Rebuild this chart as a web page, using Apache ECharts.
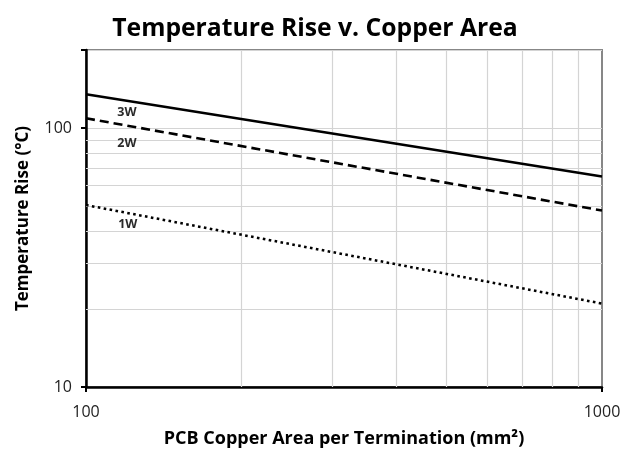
<!DOCTYPE html>
<html>
<head>
<meta charset="utf-8">
<script src="https://cdn.jsdelivr.net/npm/echarts@6/dist/echarts.min.js"></script>
<style>html,body{margin:0;padding:0;background:#fff}#c{width:630px;height:453px}</style>
</head>
<body>
<div id="c"></div>
<script>
// Data (log-log straight lines)
const xValues = [100, 1000];
const series3W = [135, 65];
const series2W = [109, 48];
const series1W = [50.4, 21];
const seriesNames = ['3W', '2W', '1W'];
const xMinorGrid = [200, 300, 400, 500, 600, 700, 800, 900];
const yMinorGrid = [20, 30, 40, 50, 60, 70, 80, 90];
const yTickLabels = [10, 100];
const xTickLabels = [100, 1000];

const FONT = '"Open Sans", sans-serif';
const chart = echarts.init(document.getElementById('c'));

function pts(vals){ return xValues.map((x,i)=>[x, vals[i]]); }

const gridLines = [];
xMinorGrid.forEach(v => gridLines.push({xAxis: v}));
yMinorGrid.forEach(v => gridLines.push({yAxis: v}));

const lblStyle = {show: true, fontFamily: FONT, fontWeight: 'bold', fontSize: 12.5, color: '#2a2a2a'};

chart.setOption({
  animation: false,
  title: {
    text: 'Temperature Rise v. Copper Area',
    left: 'center', top: 11,
    textStyle: {fontFamily: FONT, fontWeight: 'bold', fontSize: 24.7, color: '#000'}
  },
  grid: {left: 86, right: 28, top: 50, bottom: 66, show: true, borderColor: '#878787', borderWidth: 2, backgroundColor: 'transparent'},
  xAxis: {
    type: 'log', logBase: 10, min: 100, max: 1000,
    name: 'PCB Copper Area per Termination (mm²)',
    nameLocation: 'middle', nameGap: 43,
    nameTextStyle: {fontFamily: FONT, fontWeight: 'bold', fontSize: 18, color: '#000'},
    axisLine: {show: true, lineStyle: {color: '#000', width: 2.5}},
    axisTick: {show: true, length: 5, lineStyle: {color: '#000', width: 2}},
    axisLabel: {fontFamily: FONT, fontSize: 16, color: '#222', margin: 17,
      formatter: v => xTickLabels.includes(Math.round(v)) ? String(Math.round(v)) : ''},
    splitLine: {show: false}
  },
  yAxis: {
    type: 'log', logBase: 10, min: 10, max: 200,
    name: 'Temperature Rise (°C)',
    nameLocation: 'middle', nameGap: 54,
    nameTextStyle: {fontFamily: FONT, fontWeight: 'bold', fontSize: 17, color: '#000'},
    axisLine: {show: true, lineStyle: {color: '#000', width: 2.5}},
    axisTick: {show: true, length: 5, lineStyle: {color: '#000', width: 2}},
    axisLabel: {fontFamily: FONT, fontSize: 16, color: '#222', margin: 14,
      formatter: v => yTickLabels.includes(Math.round(v)) ? String(Math.round(v)) : ''},
    splitLine: {show: true, lineStyle: {color: '#d4d4d4', width: 1.2}}
  },
  series: [
    {
      name: 'grid', type: 'line', data: [[100, 10]], symbol: 'none', silent: true, z: 1,
      lineStyle: {opacity: 0},
      markLine: {silent: true, symbol: 'none', label: {show: false},
        lineStyle: {color: '#d4d4d4', type: 'solid', width: 1.2}, data: gridLines, animation: false}
    },
    {
      name: seriesNames[0], type: 'line', data: pts(series3W), symbol: 'none', z: 5,
      lineStyle: {color: '#000', width: 2.6, type: 'solid'},
      markPoint: {symbol: 'circle', symbolSize: 0, data: [{coord: [120, 115], value: seriesNames[0]}],
        label: Object.assign({formatter: seriesNames[0]}, lblStyle)}
    },
    {
      name: seriesNames[1], type: 'line', data: pts(series2W), symbol: 'none', z: 5,
      lineStyle: {color: '#000', width: 2.6, type: [9, 5]},
      markPoint: {symbol: 'circle', symbolSize: 0, data: [{coord: [120, 87.5], value: seriesNames[1]}],
        label: Object.assign({formatter: seriesNames[1]}, lblStyle)}
    },
    {
      name: seriesNames[2], type: 'line', data: pts(series1W), symbol: 'none', z: 5,
      lineStyle: {color: '#000', width: 2.6, type: [2.6, 3.4]},
      markPoint: {symbol: 'circle', symbolSize: 0, data: [{coord: [120.5, 42.6], value: seriesNames[2]}],
        label: Object.assign({formatter: seriesNames[2]}, lblStyle)}
    }
  ]
});
</script>
</body>
</html>
